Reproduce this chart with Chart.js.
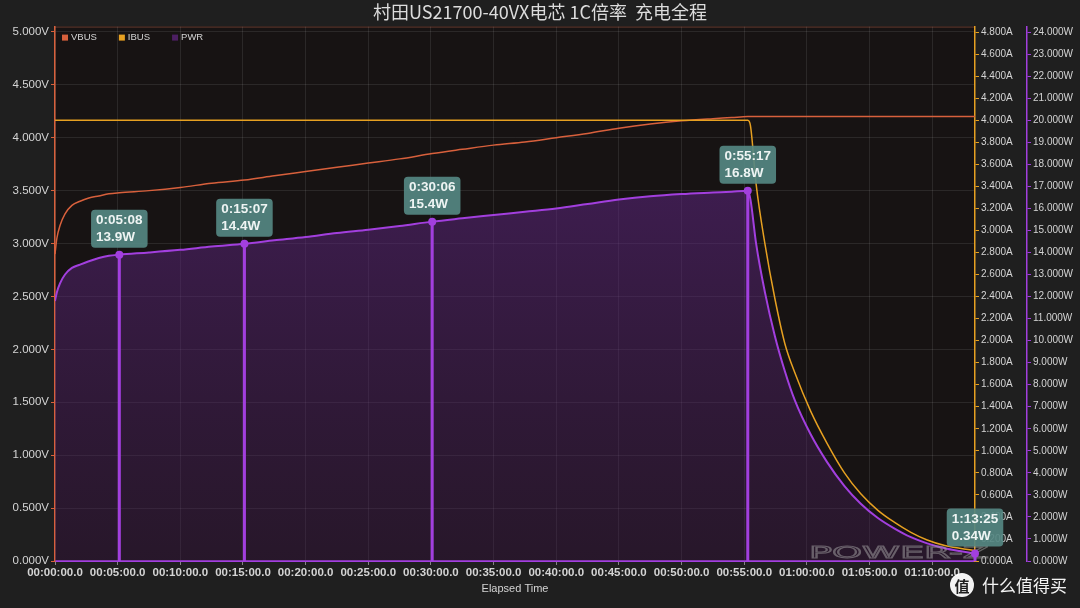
<!DOCTYPE html>
<html>
<head>
<meta charset="utf-8">
<script src="https://cdn.jsdelivr.net/npm/chart.js@4.4.1/dist/chart.umd.min.js"></script>
<style>
    html, body { margin: 0; padding: 0; background: #1f1f1f; }
    #wrap { width: 1080px; height: 608px; position: relative; }
</style>
</head>
<body>
<div id="wrap"><canvas id="chart"></canvas></div>
<script>
// elapsed time in seconds
var timeSec = [0, 9, 24, 48, 81, 120, 162, 210, 258, 308, 450, 600, 750, 907, 1050, 1200, 1350, 1500, 1650, 1806,
    1950, 2100, 2250, 2400, 2550, 2700, 2850, 3000, 3150, 3240, 3317,
    3330, 3357, 3399, 3447, 3495, 3542, 3618, 3696, 3780, 3858, 3940, 4020, 4098, 4176, 4260, 4332, 4405];

var vbus = [2.90, 3.05, 3.17, 3.28, 3.36, 3.40, 3.43, 3.45, 3.47, 3.48, 3.50, 3.53, 3.57, 3.60, 3.64, 3.68, 3.72, 3.76, 3.80, 3.85,
    3.89, 3.93, 3.96, 4.00, 4.04, 4.09, 4.13, 4.16, 4.18, 4.19, 4.20,
    4.20, 4.20, 4.20, 4.20, 4.20, 4.20, 4.20, 4.20, 4.20, 4.20, 4.20, 4.20, 4.20, 4.20, 4.20, 4.20, 4.20];

var ibus = [4.00, 4.00, 4.00, 4.00, 4.00, 4.00, 4.00, 4.00, 4.00, 4.00, 4.00, 4.00, 4.00, 4.00, 4.00, 4.00, 4.00, 4.00, 4.00, 4.00,
    4.00, 4.00, 4.00, 4.00, 4.00, 4.00, 4.00, 4.00, 4.00, 4.00, 4.00,
    3.95, 3.42, 2.88, 2.38, 1.97, 1.71, 1.36, 1.07, 0.80, 0.61, 0.46, 0.35, 0.26, 0.19, 0.14, 0.115, 0.095];

var pwr = [11.8, 12.2, 12.6, 13.0, 13.3, 13.45, 13.6, 13.75, 13.85, 13.9, 14.0, 14.12, 14.27, 14.4, 14.55, 14.7, 14.88, 15.03, 15.2, 15.4,
    15.55, 15.7, 15.85, 16.0, 16.2, 16.4, 16.55, 16.65, 16.72, 16.76, 16.8,
    16.4, 14.4, 12.2, 10.2, 8.6, 7.3, 5.75, 4.5, 3.4, 2.6, 1.95, 1.47, 1.08, 0.8, 0.58, 0.45, 0.34];

// marked points: time (s) and power (W)
var markTimes = [308, 907, 1806, 3317, 4405];
var markPower = [13.9, 14.4, 15.4, 16.8, 0.34];

var seriesNames = ['VBUS', 'IBUS', 'PWR'];

var TITLE = '村田US21700-40VX电芯 1C倍率  充电全程';

var C_V = '#d8603c';
var C_A = '#e6a021';
var C_W = '#a23fde';
var TXT = '#d4d4d4';

function pad2(n) { return (n < 10 ? '0' : '') + n; }
function fmtTick(s) {
    var h = Math.floor(s / 3600), m = Math.floor((s % 3600) / 60), sec = Math.round(s % 60);
    return pad2(h) + ':' + pad2(m) + ':' + pad2(sec) + '.0';
}
function fmtMark(s) {
    var h = Math.floor(s / 3600), m = Math.floor((s % 3600) / 60), sec = Math.round(s % 60);
    return h + ':' + pad2(m) + ':' + pad2(sec);
}
function toXY(ys) {
    return timeSec.map(function (t, i) { return { x: t, y: ys[i] }; });
}

var bgPlugin = {
    id: 'bg',
    beforeDraw: function (chart) {
        var ctx = chart.ctx, a = chart.chartArea;
        ctx.save();
        ctx.fillStyle = '#1f1f1f';
        ctx.fillRect(0, 0, chart.width, chart.height);
        ctx.fillStyle = '#171313';
        ctx.fillRect(a.left, a.top, a.right - a.left, a.bottom - a.top);
        ctx.strokeStyle = 'rgba(150,80,60,0.6)';
        ctx.lineWidth = 1;
        ctx.beginPath();
        ctx.moveTo(a.left, a.top + 0.5);
        ctx.lineTo(a.right, a.top + 0.5);
        ctx.stroke();
        ctx.restore();
    }
};

var markPlugin = {
    id: 'marks',
    afterDatasetsDraw: function (chart) {
        var ctx = chart.ctx, a = chart.chartArea;
        var xs = chart.scales.x, ys = chart.scales.yW;
        ctx.save();
        // POWER-Z watermark
        ctx.save();
        ctx.font = '16px "DejaVu Sans"';
        var ww = ctx.measureText('POWER-Z').width;
        ctx.translate(809, 558);
        ctx.scale(180 / ww, 1);
        ctx.strokeStyle = 'rgba(170,170,170,0.5)';
        ctx.lineWidth = 1;
        ctx.strokeText('POWER-Z', 0, 0);
        ctx.restore();

        markTimes.forEach(function (t, i) {
            var px = xs.getPixelForValue(t), py = ys.getPixelForValue(markPower[i]);
            ctx.strokeStyle = C_W;
            ctx.lineWidth = 3;
            ctx.beginPath();
            ctx.moveTo(px, py);
            ctx.lineTo(px, a.bottom);
            ctx.stroke();
            ctx.fillStyle = C_W;
            ctx.beginPath();
            ctx.arc(px, py, 4, 0, Math.PI * 2);
            ctx.fill();
        });
        markTimes.forEach(function (t, i) {
            var px = xs.getPixelForValue(t), py = ys.getPixelForValue(markPower[i]);
            var l1 = fmtMark(t), l2 = markPower[i] + 'W';
            ctx.font = 'bold 13.5px "Liberation Sans"';
            var w = Math.max(ctx.measureText(l1).width, ctx.measureText(l2).width) + 10;
            var h = 38;
            var bx = px - w / 2, by = py - 7 - h;
            ctx.fillStyle = 'rgba(85,135,130,0.92)';
            ctx.beginPath();
            ctx.roundRect(bx, by, w, h, 4);
            ctx.fill();
            ctx.fillStyle = '#eef4f3';
            ctx.textBaseline = 'middle';
            ctx.textAlign = 'left';
            ctx.fillText(l1, bx + 5, by + 11);
            ctx.fillText(l2, bx + 5, by + 28);
        });
        ctx.restore();
    },
    afterDraw: function (chart) {
        var ctx = chart.ctx, a = chart.chartArea;
        ctx.save();
        // legend inside the plot area
        var legendColors = [C_V, C_A, '#4c1f62'];
        var lx = a.left + 7, ly = a.top + 11;
        ctx.font = '9.5px "Liberation Sans"';
        ctx.textBaseline = 'middle';
        ctx.textAlign = 'left';
        seriesNames.forEach(function (n, i) {
            ctx.fillStyle = legendColors[i];
            ctx.fillRect(lx, ly - 3, 6, 6);
            ctx.fillStyle = TXT;
            ctx.fillText(n, lx + 9, ly);
            lx += 9 + ctx.measureText(n).width + 22;
        });
        // site watermark
        ctx.fillStyle = 'rgba(255,255,255,0.95)';
        ctx.beginPath();
        ctx.arc(962, 585, 12, 0, Math.PI * 2);
        ctx.fill();
        ctx.fillStyle = '#1f1f1f';
        ctx.font = 'bold 15px "Noto Sans CJK SC"';
        ctx.textAlign = 'center';
        ctx.fillText('值', 962, 586);
        ctx.fillStyle = 'rgba(255,255,255,0.95)';
        ctx.font = '17px "Noto Sans CJK SC"';
        ctx.textAlign = 'left';
        ctx.fillText('什么值得买', 982, 586);
        ctx.restore();
    }
};

var ctx = document.getElementById('chart');
new Chart(ctx, {
    type: 'line',
    data: {
        datasets: [
            {
                label: seriesNames[0],
                data: toXY(vbus),
                yAxisID: 'yV',
                borderColor: C_V,
                backgroundColor: C_V,
                borderWidth: 1.5,
                pointRadius: 0,
                cubicInterpolationMode: 'monotone',
                fill: false,
                order: 2
            },
            {
                label: seriesNames[1],
                data: toXY(ibus),
                yAxisID: 'yA',
                borderColor: C_A,
                backgroundColor: C_A,
                borderWidth: 1.5,
                pointRadius: 0,
                cubicInterpolationMode: 'monotone',
                fill: false,
                order: 1
            },
            {
                label: seriesNames[2],
                data: toXY(pwr),
                yAxisID: 'yW',
                borderColor: C_W,
                backgroundColor: function (c) {
                    var a = c.chart.chartArea;
                    if (!a) return 'rgba(90,35,120,0.5)';
                    var g = c.chart.ctx.createLinearGradient(0, a.top, 0, a.bottom);
                    g.addColorStop(0, 'rgba(105,40,150,0.62)');
                    g.addColorStop(1, 'rgba(70,30,85,0.35)');
                    return g;
                },
                borderWidth: 2,
                pointRadius: 0,
                cubicInterpolationMode: 'monotone',
                fill: 'origin',
                order: 3
            }
        ]
    },
    options: {
        responsive: true,
        maintainAspectRatio: false,
        animation: false,
        layout: { padding: { left: 0, right: 0, top: 0, bottom: 12 } },
        plugins: {
            title: {
                display: true,
                text: TITLE,
                color: '#dcdcdc',
                font: { family: '"Noto Sans CJK SC"', size: 18, weight: 'normal' },
                padding: { top: 1, bottom: 4 }
            },
            legend: { display: false },
            tooltip: { enabled: false }
        },
        scales: {
            x: {
                type: 'linear',
                min: 0,
                max: 4405,
                border: { color: C_W, width: 2 },
                grid: { color: 'rgba(255,255,255,0.09)', tickColor: 'rgba(200,200,200,0.6)', tickLength: 4 },
                ticks: {
                    stepSize: 300,
                    includeBounds: false,
                    maxRotation: 0,
                    autoSkip: false,
                    color: TXT,
                    padding: 1,
                    font: { family: '"Liberation Sans"', size: 11.5, weight: 'bold' },
                    callback: function (v) { return fmtTick(v); }
                },
                title: {
                    display: true,
                    text: 'Elapsed Time',
                    color: TXT,
                    padding: { top: 2, bottom: 0 },
                    font: { family: '"Liberation Sans"', size: 11 }
                }
            },
            yV: {
                position: 'left',
                min: 0,
                max: 5.05,
                border: { color: C_V, width: 1.5 },
                grid: { color: 'rgba(255,255,255,0.09)', tickColor: C_V, tickLength: 4 },
                ticks: {
                    stepSize: 0.5,
                    includeBounds: false,
                    color: TXT,
                    padding: 2,
                    font: { family: '"Liberation Sans"', size: 11.5 },
                    callback: function (v) { return v.toFixed(3) + 'V'; }
                },
                afterFit: function (s) { s.width = 55; }
            },
            yA: {
                position: 'right',
                min: 0,
                max: 4.85,
                weight: 1,
                border: { color: C_A, width: 1.5 },
                grid: { drawOnChartArea: false, tickColor: C_A, tickLength: 4 },
                ticks: {
                    stepSize: 0.2,
                    includeBounds: false,
                    color: TXT,
                    padding: 2,
                    font: { family: '"Liberation Sans"', size: 10 },
                    callback: function (v) { return v.toFixed(3) + 'A'; }
                },
                afterFit: function (s) { s.width = 52; }
            },
            yW: {
                position: 'right',
                min: 0,
                max: 24.25,
                weight: 2,
                border: { color: C_W, width: 1.5 },
                grid: { drawOnChartArea: false, tickColor: C_W, tickLength: 4 },
                ticks: {
                    stepSize: 1,
                    includeBounds: false,
                    color: TXT,
                    padding: 2,
                    font: { family: '"Liberation Sans"', size: 10 },
                    callback: function (v) { return v.toFixed(3) + 'W'; }
                },
                afterFit: function (s) { s.width = 53; }
            }
        }
    },
    plugins: [bgPlugin, markPlugin]
});
</script>
</body>
</html>
